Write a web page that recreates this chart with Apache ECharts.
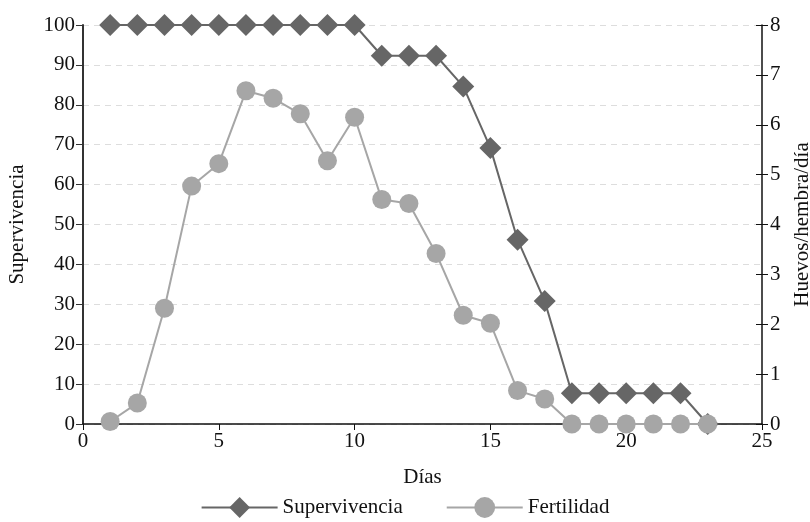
<!DOCTYPE html>
<html>
<head>
<meta charset="utf-8">
<script src="https://cdn.jsdelivr.net/npm/echarts@6/dist/echarts.min.js"></script>
<style>
  html, body { margin: 0; padding: 0; background: #fff; }
  #chart { width: 810px; height: 522px; }
</style>
</head>
<body>
<div id="chart"></div>
<script>
// Survival (%) and fertility (eggs/female/day) by day.
const days = [1, 2, 3, 4, 5, 6, 7, 8, 9, 10, 11, 12, 13, 14, 15, 16, 17, 18, 19, 20, 21, 22, 23];
const supervivencia = [100, 100, 100, 100, 100, 100, 100, 100, 100, 100,
  92.3, 92.3, 92.3, 84.6, 69.2, 46.2, 30.8, 7.7, 7.7, 7.7, 7.7, 7.7, 0];
const fertilidad = [0.05, 0.42, 2.32, 4.77, 5.22, 6.68, 6.53, 6.22, 5.28, 6.15,
  4.5, 4.42, 3.42, 2.18, 2.02, 0.67, 0.5, 0, 0, 0, 0, 0, 0];

const FONT = '"Liberation Serif", "DejaVu Serif", serif';
const DARK = '#666666';
const LIGHT = '#a6a6a6';

const chart = echarts.init(document.getElementById('chart'), null, { renderer: 'canvas' });

const tickStyle = { color: '#111', fontFamily: FONT, fontSize: 21 };
const nameStyle = { color: '#111', fontFamily: FONT, fontSize: 21 };

chart.setOption({
  backgroundColor: '#fff',
  animation: false,
  textStyle: { fontFamily: FONT },
  grid: { left: 83, right: 48, top: 25, bottom: 98, outerBoundsMode: 'none' },
  legend: {
    bottom: -1,
    left: 'center',
    itemWidth: 76,
    itemHeight: 26,
    itemGap: 43,
    textStyle: { color: '#111', fontFamily: FONT, fontSize: 21 },
    data: ['Supervivencia', 'Fertilidad'],
  },
  xAxis: {
    type: 'value',
    min: 0,
    max: 25,
    interval: 5,
    name: 'Días',
    nameLocation: 'middle',
    nameGap: 43,
    nameTextStyle: nameStyle,
    axisLine: { show: true, onZero: false, lineStyle: { color: '#111', width: 1.5 } },
    axisTick: { show: true, length: 6, lineStyle: { color: '#111' } },
    axisLabel: Object.assign({ margin: 7 }, tickStyle),
    splitLine: { show: false },
  },
  yAxis: [
    {
      type: 'value',
      min: 0,
      max: 100,
      interval: 10,
      position: 'left',
      name: 'Supervivencia',
      nameLocation: 'middle',
      nameGap: 55,
      nameTextStyle: nameStyle,
      axisLine: { show: true, lineStyle: { color: '#333', width: 2 } },
      axisTick: { show: true, length: 7, lineStyle: { color: '#333' } },
      axisLabel: Object.assign({ margin: 8 }, tickStyle),
      splitLine: { show: true, lineStyle: { color: '#dddddd', type: [6, 5], width: 1 } },
    },
    {
      type: 'value',
      min: 0,
      max: 8,
      interval: 1,
      position: 'right',
      name: 'Huevos/hembra/día',
      nameLocation: 'middle',
      nameGap: 30,
      nameTextStyle: nameStyle,
      axisLine: { show: true, lineStyle: { color: '#111', width: 1.5 } },
      axisTick: { show: true, length: 6, lineStyle: { color: '#111' } },
      axisLabel: Object.assign({ margin: 8 }, tickStyle),
      splitLine: { show: false },
    },
    {
      // inner half of the crossing ticks on the right axis
      type: 'value',
      min: 0,
      max: 8,
      interval: 1,
      position: 'right',
      axisLine: { show: false },
      axisTick: { show: true, inside: true, length: 6, lineStyle: { color: '#111' } },
      axisLabel: { show: false },
      splitLine: { show: false },
    },
  ],
  series: [
    {
      name: 'Supervivencia',
      type: 'line',
      yAxisIndex: 0,
      data: days.map((d, i) => [d, supervivencia[i]]),
      symbol: 'diamond',
      symbolSize: 22,
      z: 2,
      itemStyle: { color: DARK },
      lineStyle: { color: DARK, width: 2 },
    },
    {
      name: 'Fertilidad',
      type: 'line',
      yAxisIndex: 1,
      data: days.map((d, i) => [d, fertilidad[i]]),
      symbol: 'circle',
      symbolSize: 19,
      z: 3,
      itemStyle: { color: LIGHT },
      lineStyle: { color: LIGHT, width: 2 },
    },
  ],
});
</script>
</body>
</html>
